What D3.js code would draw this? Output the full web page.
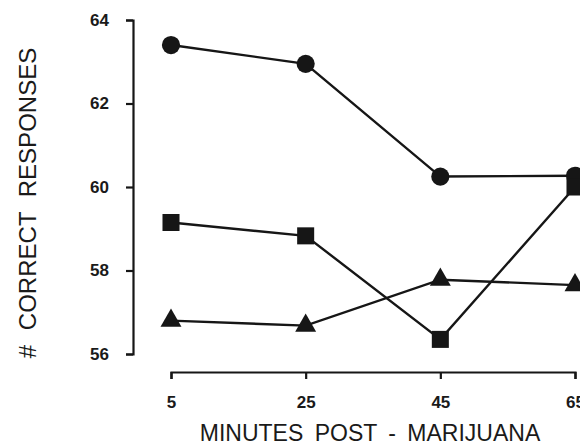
<!DOCTYPE html>
<html>
<head>
<meta charset="utf-8">
<script src="https://cdn.jsdelivr.net/npm/d3@7"></script>
<style>
  body { margin: 0; background: #fff; }
  svg { display: block; }
  .tick text { font-family: "Liberation Sans", Arial, sans-serif; font-weight: bold; fill: #1a1a1a; }
  .title { font-family: "Liberation Sans", Arial, sans-serif; fill: #1a1a1a; }
</style>
</head>
<body>
<div id="chart"></div>
<script>
const minutes = [5, 25, 45, 65];
const circleSeries = [63.4, 62.95, 60.25, 60.27];
const squareSeries = [59.15, 58.83, 56.35, 60.0];
const triangleSeries = [56.8, 56.68, 57.78, 57.65];
const yTicks = [56, 58, 60, 62, 64];

const width = 580;
const height = 447;
const ink = '#161616';

const svg = d3.select('#chart')
    .append('svg')
    .attr('width', width)
    .attr('height', height);

const xScale = d3.scaleLinear()
    .domain([5, 65])
    .range([171, 575]);

const yScale = d3.scaleLinear()
    .domain([56, 64])
    .range([354, 20]);

// axes: ticks point outward, ends closed like the original
const xAxis = svg.append('g')
    .attr('transform', 'translate(0, 372)')
    .call(d3.axisBottom(xScale).tickValues(minutes).tickSize(7).tickSizeOuter(7).tickPadding(17));

const yAxis = svg.append('g')
    .attr('transform', 'translate(133, 0)')
    .call(d3.axisLeft(yScale).tickValues(yTicks).tickSize(7).tickSizeOuter(7).tickPadding(17));

[xAxis, yAxis].forEach(ax => {
    ax.select('.domain').attr('stroke', ink).attr('stroke-width', 2.2);
    ax.selectAll('.tick line').attr('stroke', ink).attr('stroke-width', 2.2);
    ax.selectAll('.tick text').attr('font-size', 17);
});

const line = d3.line()
    .x((d, i) => xScale(minutes[i]))
    .y(d => yScale(d));

const series = [
    { values: circleSeries, shape: d3.symbolCircle, size: 260 },
    { values: squareSeries, shape: d3.symbolSquare, size: 290 },
    { values: triangleSeries, shape: d3.symbolTriangle, size: 190 }
];

series.forEach(s => {
    svg.append('path')
        .datum(s.values)
        .attr('fill', 'none')
        .attr('stroke', ink)
        .attr('stroke-width', 2.4)
        .attr('d', line);

    svg.append('g')
        .selectAll('path')
        .data(s.values)
        .join('path')
        .attr('transform', (d, i) => `translate(${xScale(minutes[i])}, ${yScale(d)})`)
        .attr('d', d3.symbol().type(s.shape).size(s.size))
        .attr('fill', ink);
});

svg.append('text')
    .attr('class', 'title')
    .attr('x', 370)
    .attr('y', 441)
    .attr('text-anchor', 'middle')
    .attr('font-size', 23)
    .attr('word-spacing', 5)
    .text('MINUTES POST - MARIJUANA');

svg.append('text')
    .attr('class', 'title')
    .attr('transform', 'translate(36, 203) rotate(-90)')
    .attr('text-anchor', 'middle')
    .attr('font-size', 24)
    .attr('word-spacing', 8)
    .text('# CORRECT RESPONSES');
</script>
</body>
</html>
